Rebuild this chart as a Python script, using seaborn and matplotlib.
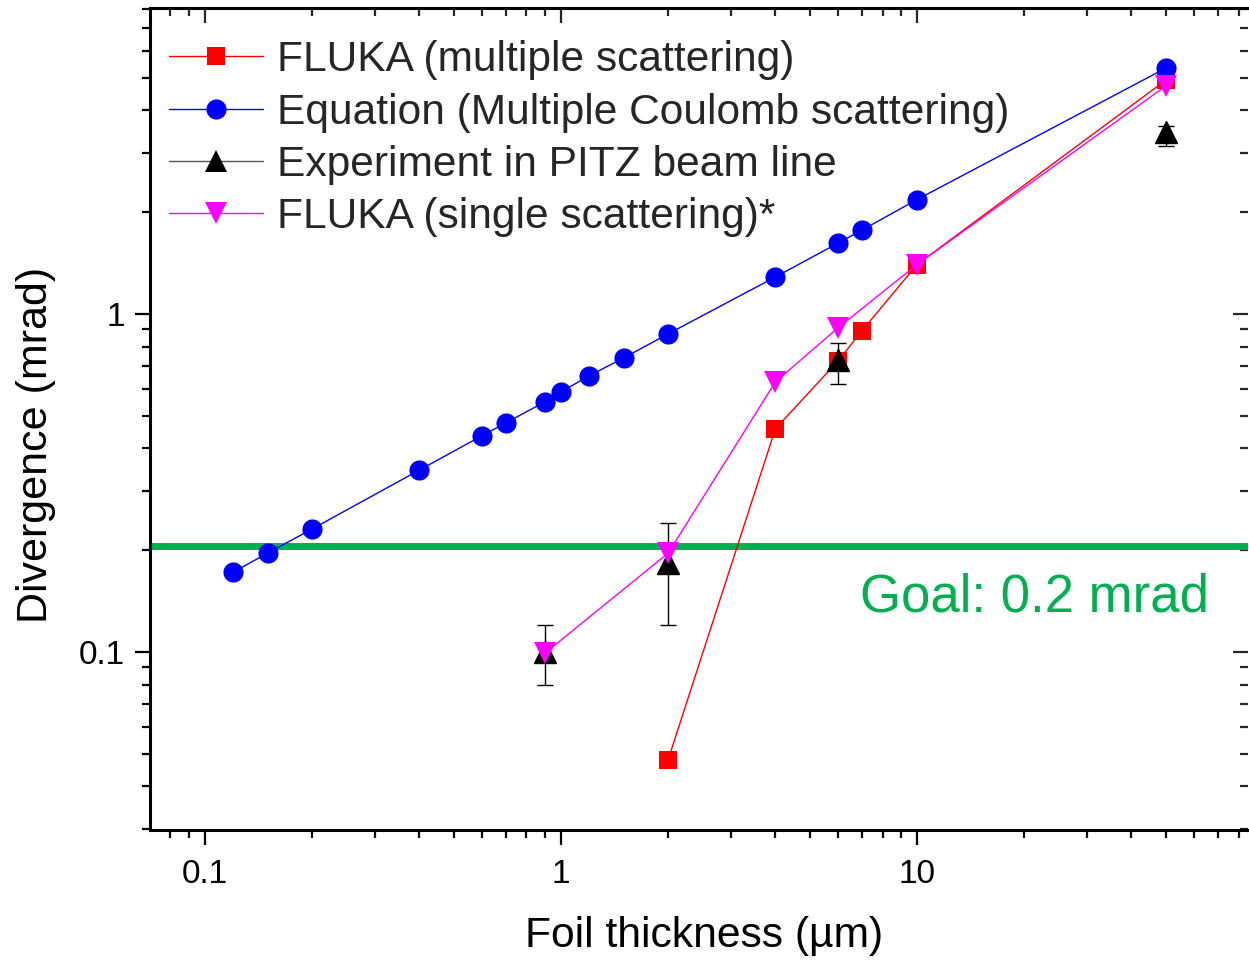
import numpy as np
import pandas as pd
import matplotlib
matplotlib.use("Agg")
import matplotlib.pyplot as plt
from matplotlib.lines import Line2D
from matplotlib.ticker import LogLocator, NullFormatter, FixedLocator, FixedFormatter
import seaborn as sns

# ---- data ----
fluka_ms_x = [2, 4, 6, 7, 10, 50]
fluka_ms_y = [0.048, 0.457, 0.726, 0.891, 1.40, 4.92]

eq_x = [0.12, 0.15, 0.2, 0.4, 0.6, 0.7, 0.9, 1.0, 1.2, 1.5, 2, 4, 6, 7, 10, 50]
eq_y = [0.172, 0.196, 0.231, 0.345, 0.436, 0.476, 0.549, 0.588, 0.656, 0.741,
        0.873, 1.286, 1.62, 1.77, 2.18, 5.34]

exp_x = [0.9, 2, 6, 50]
exp_y = [0.100, 0.183, 0.730, 3.45]
exp_lo = [0.080, 0.120, 0.621, 3.15]
exp_hi = [0.120, 0.240, 0.821, 3.60]

fluka_ss_x = [0.9, 2, 4, 6, 10, 50]
fluka_ss_y = [0.099, 0.196, 0.629, 0.91, 1.40, 4.73]

goal = 0.206

labels = ["FLUKA (multiple scattering)",
          "Equation (Multiple Coulomb scattering)",
          "Experiment in PITZ beam line",
          "FLUKA (single scattering)*"]

sns.set_theme(style="ticks")
plt.rcParams['font.family'] = ['Liberation Sans', 'DejaVu Sans']

fig = plt.figure(figsize=(12.49, 9.61), dpi=100)
ax = fig.add_axes([150/1249, 1-830/961, 1098/1249, 822/961])

GREEN = "#00B050"
ax.axhline(goal, color=GREEN, lw=5, zorder=1)

sns.lineplot(x=fluka_ms_x, y=fluka_ms_y, ax=ax, color="red", lw=1, marker="s",
             markersize=13, markeredgewidth=0, sort=False, estimator=None, zorder=2)
sns.lineplot(x=eq_x, y=eq_y, ax=ax, color="blue", lw=1, marker="o",
             markersize=14.5, markeredgewidth=0, sort=False, estimator=None, zorder=3)
yerr = [np.array(exp_y) - np.array(exp_lo), np.array(exp_hi) - np.array(exp_y)]
ax.errorbar(exp_x, exp_y, yerr=yerr, fmt="^", color="black", ecolor="black",
            mec="black", elinewidth=1, capsize=6, capthick=1, markersize=15.5, zorder=4)
sns.lineplot(x=fluka_ss_x, y=fluka_ss_y, ax=ax, color="#FF00FF", lw=1, marker="v",
             markersize=16.5, markeredgewidth=0, sort=False, estimator=None, zorder=5)

ax.set_xscale("log")
ax.set_yscale("log")
ax.set_xlim(0.0701, 85)
ax.set_ylim(0.0297, 8.04)

ax.xaxis.set_major_locator(FixedLocator([0.1, 1, 10]))
ax.xaxis.set_major_formatter(FixedFormatter(["0.1", "1", "10"]))
ax.yaxis.set_major_locator(FixedLocator([0.1, 1]))
ax.yaxis.set_major_formatter(FixedFormatter(["0.1", "1"]))
ax.xaxis.set_minor_locator(LogLocator(base=10, subs=np.arange(2, 10)))
ax.yaxis.set_minor_locator(LogLocator(base=10, subs=np.arange(2, 10)))
ax.xaxis.set_minor_formatter(NullFormatter())
ax.yaxis.set_minor_formatter(NullFormatter())

for s in ["left", "bottom", "top"]:
    ax.spines[s].set_linewidth(2.2)
    ax.spines[s].set_color("black")
ax.spines["right"].set_visible(False)

ax.tick_params(axis="both", which="major", labelsize=24, width=1.6, length=11,
               color="black", labelcolor="black")
ax.tick_params(axis="both", which="minor", width=1.6, length=6, color="black")
ax.tick_params(axis="x", which="both", bottom=True, top=False, direction="out")
ax.tick_params(axis="y", which="both", left=True, right=False, direction="out")
ax.tick_params(axis="x", which="major", pad=10)
ax.tick_params(axis="y", which="major", pad=7)

secx = ax.secondary_xaxis("top")
secx.xaxis.set_major_locator(FixedLocator([0.1, 1, 10]))
secx.xaxis.set_minor_locator(LogLocator(base=10, subs=np.arange(2, 10)))
secx.xaxis.set_major_formatter(NullFormatter())
secx.xaxis.set_minor_formatter(NullFormatter())
secx.tick_params(which="major", direction="in", length=11, width=1.6)
secx.tick_params(which="minor", direction="in", length=6, width=1.6)
secx.spines["top"].set_visible(False)
secy = ax.secondary_yaxis("right")
secy.yaxis.set_major_locator(FixedLocator([0.1, 1]))
secy.yaxis.set_minor_locator(LogLocator(base=10, subs=np.arange(2, 10)))
secy.yaxis.set_major_formatter(NullFormatter())
secy.yaxis.set_minor_formatter(NullFormatter())
secy.tick_params(which="major", direction="in", length=11, width=1.6)
secy.tick_params(which="minor", direction="in", length=6, width=1.6)
secy.spines["right"].set_visible(False)

ax.set_xlabel("Foil thickness (µm)", fontsize=30.7, color="black")
ax.set_ylabel("Divergence (mrad)", fontsize=31, color="black")
ax.xaxis.set_label_coords(0.5046, -0.105)
ax.yaxis.set_label_coords(-0.0857, 0.468)

ax.text(6.92, 0.1445, "Goal: 0.2 mrad", color=GREEN, fontsize=38,
        ha="left", va="center")

handles = [
    Line2D([], [], color="red", lw=1, marker="s", markersize=13, markeredgewidth=0),
    Line2D([], [], color="blue", lw=1, marker="o", markersize=14.5, markeredgewidth=0),
    Line2D([], [], color="#555555", lw=1, marker="^", markersize=16.5,
           markerfacecolor="black", markeredgewidth=0),
    Line2D([], [], color="#FF00FF", lw=1, marker="v", markersize=16.5, markeredgewidth=0),
]
ax.legend(handles, labels, loc="upper left", bbox_to_anchor=(-0.002, 0.9866),
          frameon=False, fontsize=30.6, handlelength=2.2, handletextpad=0.33,
          labelspacing=0.29, borderaxespad=0.1)

fig.savefig("out.png", dpi=100)
